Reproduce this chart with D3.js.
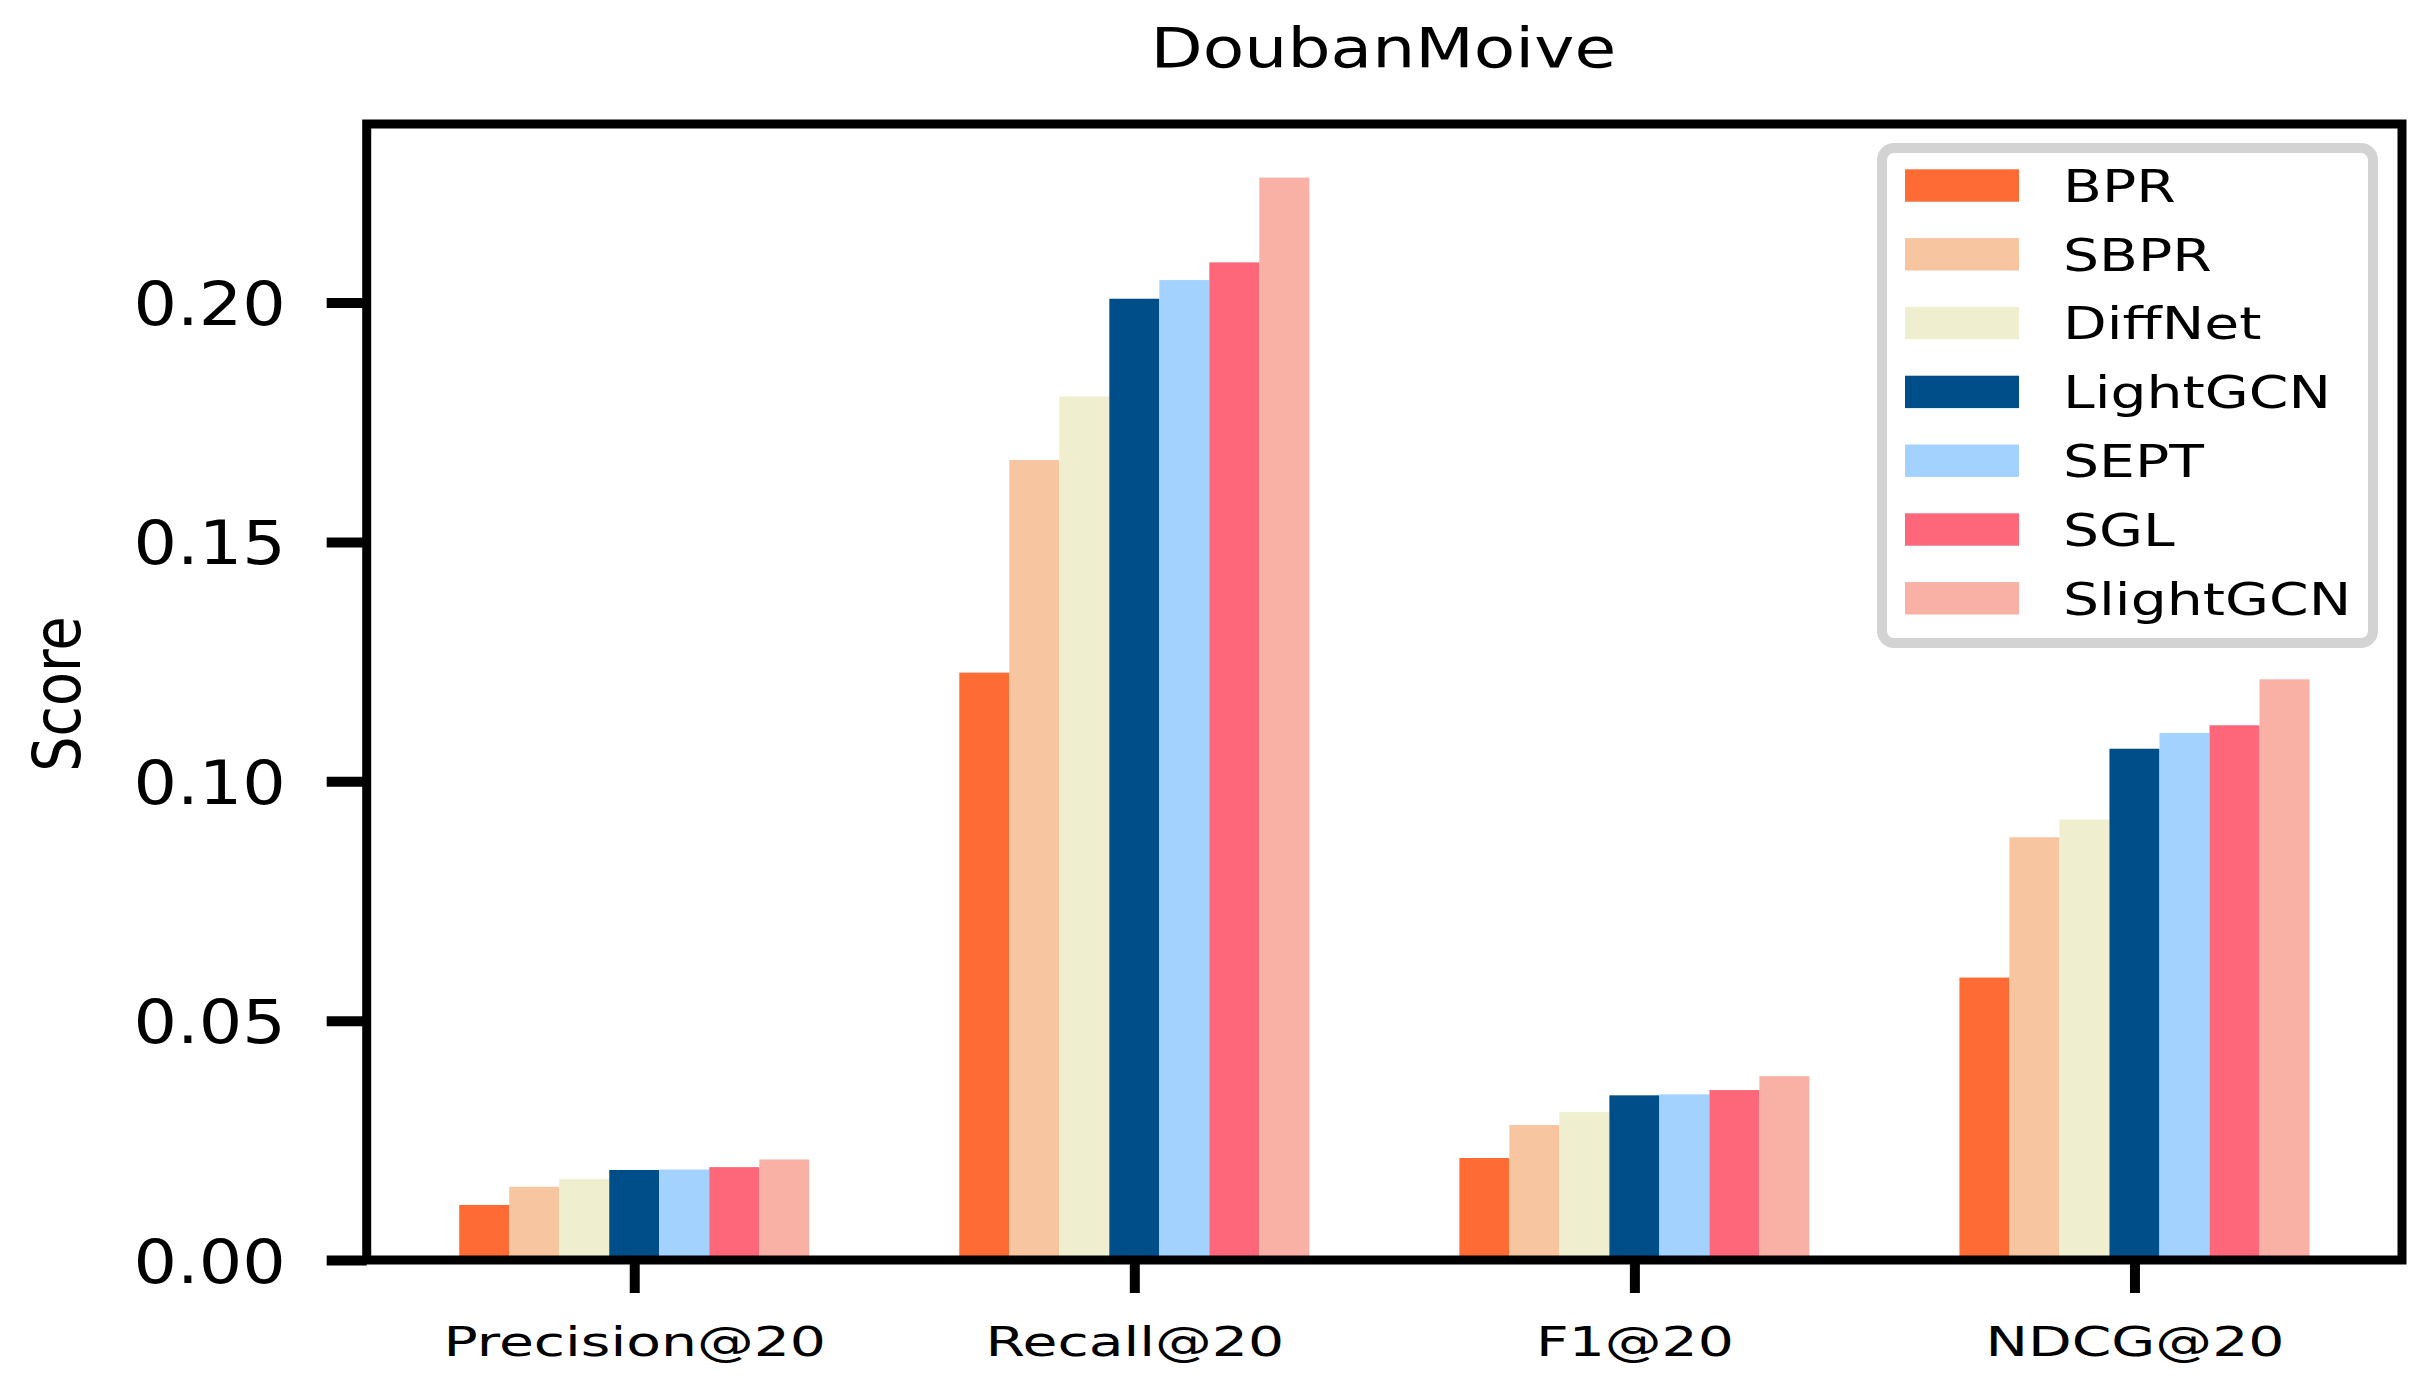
<!DOCTYPE html>
<html>
<head>
<meta charset="utf-8">
<script src="https://cdn.jsdelivr.net/npm/d3@7"></script>
<style>
  html, body { margin: 0; padding: 0; background: #ffffff; }
  svg { display: block; }
  text { font-family: "DejaVu Sans", sans-serif; fill: #000; }
</style>
</head>
<body>
<svg id="chart" width="2432" height="1386"></svg>
<script>
// ---- data ----
const categories = ["Precision@20", "Recall@20", "F1@20", "NDCG@20"];
const methods = ["BPR", "SBPR", "DiffNet", "LightGCN", "SEPT", "SGL", "SlightGCN"];
const colors = ["#FF6B35", "#F7C59F", "#EFEFD0", "#004E89", "#A3D2FF", "#FE6779", "#FAB1A5"];
const precision = [0.0115, 0.0153, 0.0169, 0.0188, 0.0189, 0.0194, 0.0210];
const recall    = [0.1227, 0.1671, 0.1804, 0.2008, 0.2047, 0.2084, 0.2261];
const f1        = [0.0213, 0.0282, 0.0309, 0.0344, 0.0346, 0.0355, 0.0384];
const ndcg      = [0.0590, 0.0883, 0.0920, 0.1068, 0.1101, 0.1117, 0.1213];
const yTicks = [0.00, 0.05, 0.10, 0.15, 0.20];
const title = "DoubanMoive";
const yLabel = "Score";

const series = [precision, recall, f1, ndcg];

// ---- layout ----
const svg = d3.select("#chart");
const L = 366.7, R = 2402, T = 124, B = 1260;
const barW = 0.1;
const x = d3.scaleLinear().domain([-0.535, 3.535]).range([L, R]);
const y = d3.scaleLinear().domain([0, 0.2373]).range([B, T]);

// bars
const rows = [];
categories.forEach((c, ci) => {
  methods.forEach((m, mi) => {
    rows.push({ ci, mi, v: series[ci][mi] });
  });
});
svg.append("g").selectAll("rect").data(rows).join("rect")
  .attr("x", d => x(d.ci + (d.mi - 3) * barW - barW / 2))
  .attr("width", d => x(barW) - x(0))
  .attr("y", d => y(d.v))
  .attr("height", d => y(0) - y(d.v))
  .attr("fill", d => colors[d.mi]);

// y axis
const yAxis = svg.append("g").attr("transform", `translate(${L},0)`)
  .call(d3.axisLeft(y).tickValues(yTicks).tickFormat(d3.format(".2f")).tickSize(40).tickSizeOuter(0));
yAxis.select(".domain").remove();
yAxis.selectAll(".tick line").attr("stroke", "#000").attr("stroke-width", 10);
yAxis.selectAll(".tick text")
  .attr("x", null).attr("dy", null).attr("y", 22)
  .attr("text-anchor", "end")
  .attr("font-size", 60)
  .attr("font-family", "DejaVu Sans")
  .attr("transform", "translate(-81,0) scale(1.14,1)");

// x axis
const xAxis = svg.append("g").attr("transform", `translate(0,${B})`)
  .call(d3.axisBottom(x).tickValues([0, 1, 2, 3]).tickFormat(i => categories[i]).tickSize(33).tickSizeOuter(0));
xAxis.select(".domain").remove();
xAxis.selectAll(".tick line").attr("stroke", "#000").attr("stroke-width", 10);
xAxis.selectAll(".tick text")
  .attr("dy", null).attr("y", 96)
  .attr("text-anchor", "middle")
  .attr("font-size", 40)
  .attr("font-family", "DejaVu Sans")
  .attr("transform", "scale(1.42,1)");

// frame (spines)
svg.append("rect")
  .attr("x", L).attr("y", T).attr("width", R - L).attr("height", B - T)
  .attr("fill", "none").attr("stroke", "#000").attr("stroke-width", 9);

// title
svg.append("text")
  .attr("text-anchor", "middle")
  .attr("font-size", 55)
  .attr("transform", `translate(${(L + R) / 2 - 1},67) scale(1.235,1)`)
  .text(title);

// y label
svg.append("text")
  .attr("text-anchor", "middle")
  .attr("font-size", 55.5)
  .attr("transform", `translate(80,${(T + B) / 2 + 2}) rotate(-90) scale(1,1.2)`)
  .text(yLabel);

// legend
const lg = svg.append("g");
lg.append("rect")
  .attr("x", 1882).attr("y", 148).attr("width", 491).attr("height", 495)
  .attr("rx", 12).attr("ry", 12)
  .attr("fill", "#fff").attr("stroke", "#d3d3d3").attr("stroke-width", 10);
const items = lg.selectAll("g.item").data(methods).join("g")
  .attr("class", "item")
  .attr("transform", (d, i) => `translate(0,${i * 68.8})`);
items.append("rect")
  .attr("x", 1905).attr("y", 169.3).attr("width", 114).attr("height", 32.4)
  .attr("fill", (d, i) => colors[i]);
items.append("text")
  .attr("font-size", 44.4)
  .attr("transform", "translate(2063,201.7) scale(1.28,1)")
  .text(d => d);
</script>
</body>
</html>
